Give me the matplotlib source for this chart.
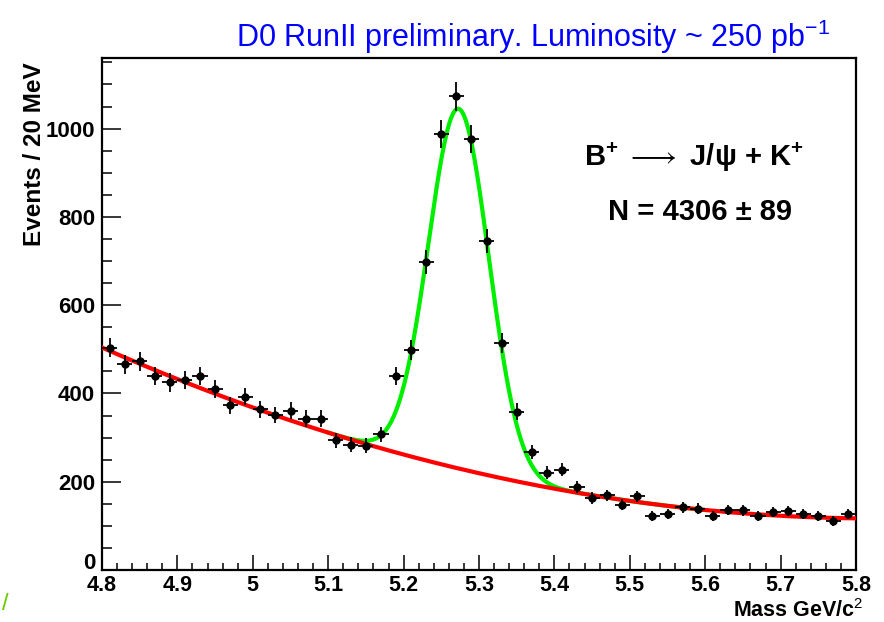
import numpy as np
import matplotlib
matplotlib.use("Agg")
import matplotlib.pyplot as plt
from matplotlib.ticker import MultipleLocator

plt.rcParams['font.family'] = ['Liberation Sans', 'DejaVu Sans']
plt.rcParams['mathtext.fontset'] = 'custom'
plt.rcParams['mathtext.rm'] = 'Liberation Sans'
plt.rcParams['mathtext.bf'] = 'Liberation Sans:bold'
plt.rcParams['mathtext.it'] = 'Liberation Sans:italic'

# bin centres (20 MeV bins) and counts
mass = np.round(np.arange(4.81, 5.80, 0.02), 2)
events = [504, 466, 473, 439, 425, 430, 439, 411, 373, 393,
          364, 351, 361, 343, 343, 294, 284, 282, 307, 439,
          498, 698, 987, 1073, 977, 745, 514, 359, 267, 220,
          227, 188, 163, 169, 148, 167, 123, 127, 142, 139,
          123, 136, 135, 123, 131, 133, 127, 123, 111, 127]
bin_half = 0.01

# fit: quadratic background (in m - 4.8) + gaussian signal
bkg_coef = [504, -752, 365]
sig_amp = 815
sig_mean = 5.273
sig_sigma = 0.040
n_signal = 4306
n_signal_err = 89


def background(m):
    t = m - 4.8
    return bkg_coef[0] + bkg_coef[1] * t + bkg_coef[2] * t ** 2


def total(m):
    return background(m) + sig_amp * np.exp(-0.5 * ((m - sig_mean) / sig_sigma) ** 2)


fig = plt.figure(figsize=(8.84, 6.22), dpi=100)
ax = fig.add_axes([102 / 884, 1 - 570 / 622, 754 / 884, 512 / 622])

m_sig = np.linspace(5.10, 5.60, 300)
m_all = np.linspace(4.8, 5.8, 400)
ax.plot(m_sig, total(m_sig), color='#00ee00', lw=3, zorder=2)
ax.plot(m_all, background(m_all), color='#ff0000', lw=3, zorder=3)

ev = np.array(events)
ax.errorbar(mass, ev, xerr=bin_half, yerr=np.sqrt(ev), fmt='o', color='black',
            ms=5, elinewidth=1.3, capsize=0, zorder=4)

ax.set_xlim(4.8, 5.8)
ax.set_ylim(0, 1160)
ax.xaxis.set_major_locator(MultipleLocator(0.1))
ax.xaxis.set_minor_locator(MultipleLocator(0.02))
ax.yaxis.set_major_locator(MultipleLocator(200))
ax.yaxis.set_minor_locator(MultipleLocator(50))
ax.xaxis.set_major_formatter(plt.FuncFormatter(lambda v, p: f"{v:g}"))
# the "0" label is drawn separately, slightly lifted, so it clears "4.8"
ax.yaxis.set_major_formatter(plt.FuncFormatter(lambda v, p: "" if v == 0 else f"{v:g}"))
ax.tick_params(axis='x', which='major', direction='in', length=11, width=1.1,
               labelsize=15.5, pad=3.5)
ax.tick_params(axis='x', which='minor', direction='in', length=5, width=1.1)
ax.tick_params(axis='y', which='major', direction='in', length=14, width=1.1,
               labelsize=16, pad=5)
ax.tick_params(axis='y', which='minor', direction='in', length=7, width=1.1)
for lab in ax.get_xticklabels() + ax.get_yticklabels():
    lab.set_fontweight('bold')
for s in ax.spines.values():
    s.set_linewidth(1.6)

ax.annotate("0", xy=(0, 0), xycoords=('axes fraction', 'data'), xytext=(-5, 5),
            textcoords='offset points', ha='right', va='center', fontsize=16,
            fontweight='bold')

fig.text(35 / 884, 1 - 62 / 622, "Events / 20 MeV", rotation=90, ha='center',
         va='top', fontsize=17.5, fontweight='bold')
fig.text(864 / 884, 1 - 617 / 622, r"Mass GeV/c$^{2}$", ha='right', va='baseline',
         fontsize=15.5, fontweight='bold')

fig.text(533 / 884, 1 - 37 / 622,
         r"D0 RunII preliminary. Luminosity ~ 250 pb$^{\mathregular{-1}}$",
         ha='center', va='center', fontsize=22, color='#0000ff')

ax.text(0.785, 0.805, r"B$^{\mathbf{+}}$ $\longrightarrow$ J/ψ + K$^{\mathbf{+}}$",
        transform=ax.transAxes, ha='center', va='center', fontsize=21,
        fontweight='bold')
ax.text(0.793, 0.70, f"N = {n_signal} ± {n_signal_err}", transform=ax.transAxes,
        ha='center', va='center', fontsize=21, fontweight='bold')

fig.text(5 / 884, 1 - 604 / 622, "/", color='#66cc00', fontsize=17,
         ha='center', va='center')

fig.savefig("out.png", dpi=100)
